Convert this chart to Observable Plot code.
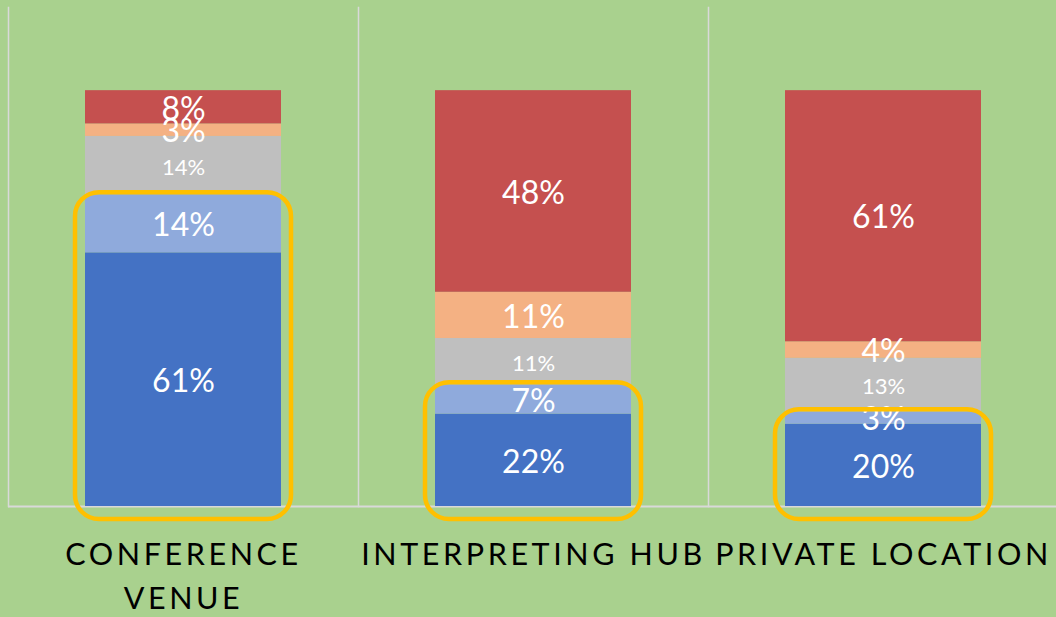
<!DOCTYPE html>
<html>
<head>
<meta charset="utf-8">
<script src="https://cdn.jsdelivr.net/npm/d3@7"></script>
<script src="https://cdn.jsdelivr.net/npm/@observablehq/plot@0.6"></script>
<style>
  html, body { margin: 0; padding: 0; background: #A9D18E; }
  #chart svg { display: block; }
  [aria-label="fx-axis tick label"] text { letter-spacing: 3.6px; }
</style>
</head>
<body>
<div id="chart"></div>
<script>
const categories = ["Conference venue", "Interpreting hub", "Private location"];
const tickLabels = ["CONFERENCE\nVENUE", "INTERPRETING HUB", "PRIVATE LOCATION"];
const seriesNames = ["Segment 1", "Segment 2", "Segment 3", "Segment 4", "Segment 5"];
const seriesColors = ["#4472C4", "#8FAADC", "#BFBFBF", "#F4B183", "#C5504F"];
const conferenceValues = [61, 14, 14, 3, 8];
const hubValues = [22, 7, 11, 11, 48];
const privateValues = [20, 3, 13, 4, 61];
const highlightedSeries = ["Segment 1", "Segment 2"];

const valuesByCategory = [conferenceValues, hubValues, privateValues];
const data = [];
categories.forEach((c, i) => {
  valuesByCategory[i].forEach((v, j) => data.push({category: c, series: seriesNames[j], value: v}));
});
const highlights = categories.map((c, i) => {
  const vals = valuesByCategory[i];
  const total = d3.sum(vals);
  const part = d3.sum(vals.filter((v, j) => highlightedSeries.includes(seriesNames[j])));
  return {category: c, top: part / total};
});
const labelOf = new Map(categories.map((c, i) => [c, tickLabels[i]]));

const chart = Plot.plot({
  width: 1056,
  height: 617,
  marginLeft: 8,
  marginRight: -2,
  marginTop: 7,
  marginBottom: 111,
  style: {background: "#A9D18E", fontFamily: "Lato, sans-serif", overflow: "visible"},
  fx: {domain: categories, padding: 0},
  y: {domain: [0, 1.2], axis: null},
  color: {domain: seriesNames, range: seriesColors},
  marks: [
    Plot.frame({anchor: "left", stroke: "#D9D9D9", strokeWidth: 1.5}),
    Plot.ruleY([0], {stroke: "#D9D9D9", strokeWidth: 2}),
    Plot.barY(data, Plot.stackY({offset: "normalize", order: null}, {
      fx: "category", y: "value", z: "series", fill: "series",
      insetLeft: 77, insetRight: 77
    })),
    Plot.text(data, Plot.stackY({offset: "normalize", order: null}, {
      fx: "category", y: "value", z: "series",
      text: d => d.value + "%",
      fill: "white",
      dy: 2,
      fontSize: d => d.series === "Segment 3" ? 22 : 32,
      fontFamily: "Lato, sans-serif"
    })),
    Plot.barY(highlights, {
      fx: "category", y1: 0, y2: "top",
      fill: "none", stroke: "#FFC000", strokeWidth: 4.5, rx: 24,
      insetLeft: 67, insetRight: 67, insetTop: -2, insetBottom: -13
    }),
    Plot.axisFx({
      anchor: "bottom",
      tickSize: 0,
      tickPadding: 27,
      tickFormat: d => labelOf.get(d),
      fontSize: 30.5,
      lineHeight: 1.44,
      fill: "black",
      label: null
    })
  ]
});
document.getElementById("chart").append(chart);
</script>
</body>
</html>
